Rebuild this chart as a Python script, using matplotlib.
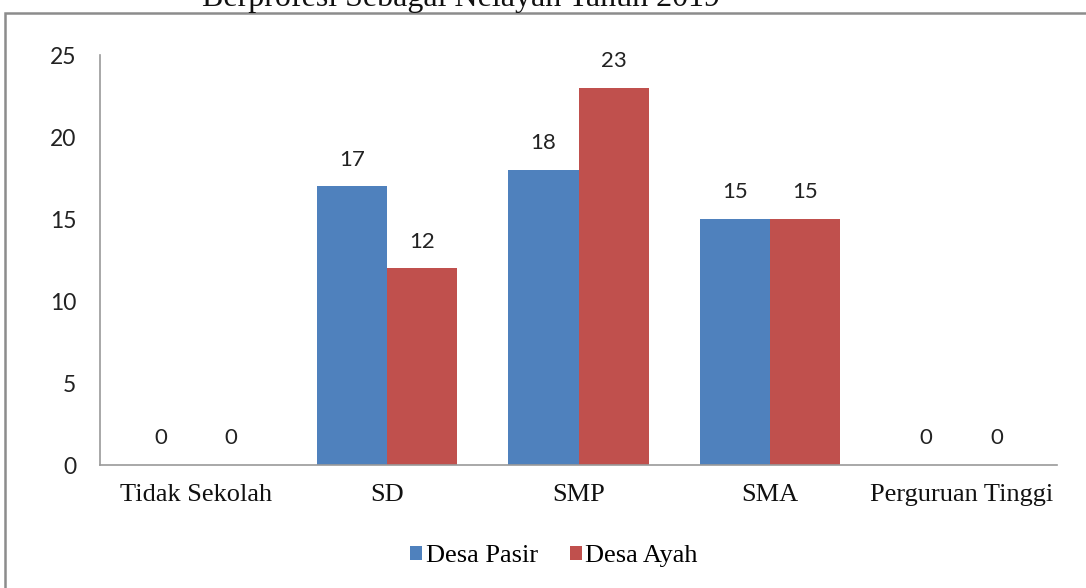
import matplotlib
matplotlib.use("Agg")
import matplotlib.pyplot as plt
import numpy as np
from matplotlib.patches import Rectangle

categories = ["Tidak Sekolah", "SD", "SMP", "SMA", "Perguruan Tinggi"]
desa_pasir = [0, 17, 18, 15, 0]
desa_ayah = [0, 12, 23, 15, 0]
series_names = ["Desa Pasir", "Desa Ayah"]
yticks = [0, 5, 10, 15, 20, 25]
title = "Berprofesi Sebagai Nelayan Tahun 2019"

blue = "#4F81BD"
red = "#C0504D"
sans = "Lato"
serif = "Liberation Serif"

fig = plt.figure(figsize=(10.86, 5.88), dpi=100)
ax = fig.add_axes([100/1086, 1-465/588, 957/1086, 410/588])

x = np.arange(len(categories))
w = 0.366
b1 = ax.bar(x - w/2, desa_pasir, w, color=blue, label=series_names[0])
b2 = ax.bar(x + w/2, desa_ayah, w, color=red, label=series_names[1])

for bars in (b1, b2):
    for r in bars:
        h = r.get_height()
        ax.annotate(f"{h:g}", (r.get_x() + r.get_width()/2, h),
                    xytext=(0, 12), textcoords="offset points",
                    ha="center", va="bottom", fontsize=16, family=sans, color="#222222")

ax.set_xlim(-0.5, len(categories) - 0.5)
ax.set_ylim(0, 25)
ax.set_yticks(yticks)
ax.set_yticklabels([str(t) for t in yticks], fontsize=16.5, family=sans, color="#222222")
ax.set_xticks(x)
ax.set_xticklabels(categories, fontsize=19, family=serif, color="#111111")
ax.tick_params(axis="both", length=0)
ax.tick_params(axis="y", pad=17)
ax.tick_params(axis="x", pad=14)
for s in ("top", "right"):
    ax.spines[s].set_visible(False)
for s in ("left", "bottom"):
    ax.spines[s].set_color("#9a9a9a")
    ax.spines[s].set_linewidth(1.2)

leg = fig.legend(handles=[b1, b2], labels=series_names, loc="center",
                 bbox_to_anchor=(554/1086, 1-556/588), ncol=2, frameon=False,
                 prop={"family": serif, "size": 19}, handlelength=0.45, handleheight=0.45,
                 handletextpad=0.15, columnspacing=1.2)

fig.patches.append(Rectangle((5/1086, -0.05), 1.2, 0.05 + 1 - 13/588,
                             transform=fig.transFigure, fill=False,
                             edgecolor="#8c8c8c", linewidth=1.8, zorder=0))
fig.text(461/1086, 1 - 6/588, title, ha="center", va="baseline",
         fontsize=23, family=serif, color="#111111")

fig.savefig("out.png", dpi=100)
